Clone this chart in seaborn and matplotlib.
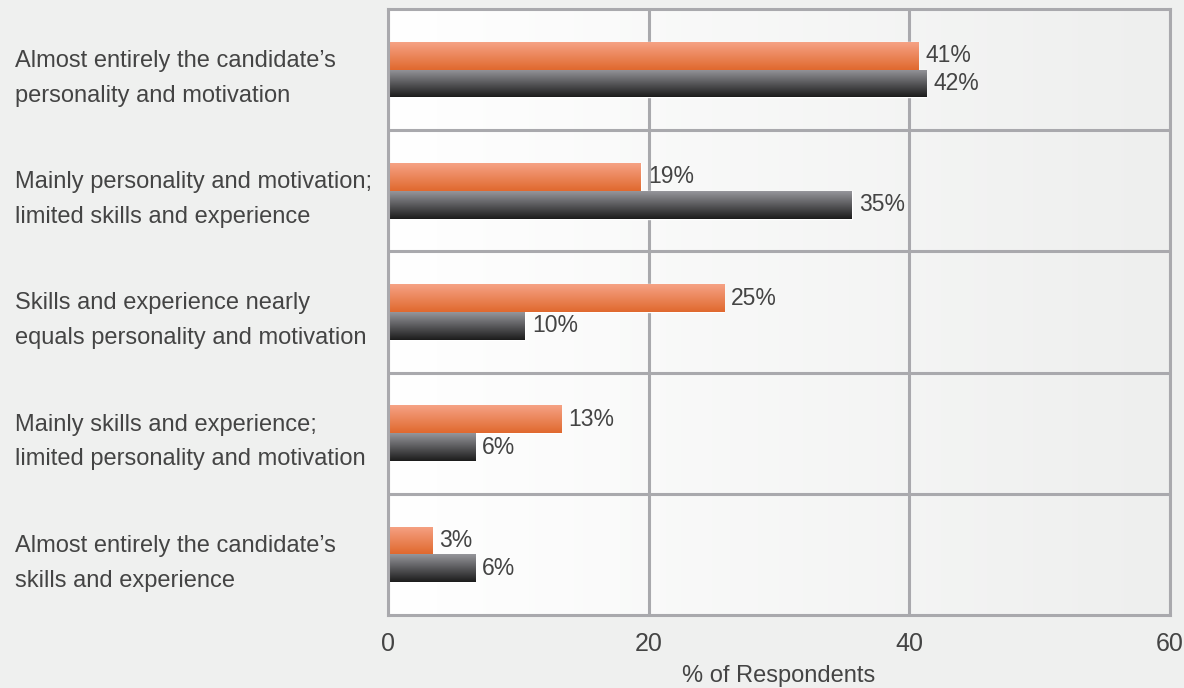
import numpy as np
import pandas as pd
import seaborn as sns
import matplotlib
matplotlib.use("Agg")
import matplotlib.pyplot as plt
from matplotlib.colors import LinearSegmentedColormap

# ---- data ----
categories = [
    "Almost entirely the candidate\u2019s\npersonality and motivation",
    "Mainly personality and motivation;\nlimited skills and experience",
    "Skills and experience nearly\nequals personality and motivation",
    "Mainly skills and experience;\nlimited personality and motivation",
    "Almost entirely the candidate\u2019s\nskills and experience",
]
series_names = ["Series 1", "Series 2"]
orange_values = [40.7, 19.4, 25.8, 13.3, 3.4]
gray_values = [41.3, 35.6, 10.5, 6.7, 6.7]
orange_labels = ["41%", "19%", "25%", "13%", "3%"]
gray_labels = ["42%", "35%", "10%", "6%", "6%"]
x_ticks = [0, 20, 40, 60]
x_label = "% of Respondents"

# ---- style ----
sns.set_theme(style="white")
FONT = ["Liberation Sans", "DejaVu Sans"]
plt.rcParams["font.family"] = FONT
TEXT = "#444444"
GRID = "#a9a9ad"
FIG_BG = "#eff0ef"

df = pd.DataFrame({
    "category": categories * 2,
    "series": [series_names[0]] * len(categories) + [series_names[1]] * len(categories),
    "value": orange_values + gray_values,
})

fig = plt.figure(figsize=(11.84, 6.88), dpi=100, facecolor=FIG_BG)
ax = fig.add_axes([388 / 1184, 1 - 615 / 688, (1170 - 388) / 1184, (615 - 9) / 688])

sns.barplot(data=df, y="category", x="value", hue="series", orient="h",
            width=0.46, palette=["#eb8255", "#5a5a5e"], saturation=1,
            legend=False, ax=ax, zorder=1)

# plot-area background gradient
bg_cmap = LinearSegmentedColormap.from_list("bg", ["#ffffff", "#eeefee"])
ax.imshow(np.linspace(0, 1, 256).reshape(1, -1), cmap=bg_cmap, aspect="auto",
          extent=[0, 1, 0, 1], transform=ax.transAxes, zorder=0.1)

# bar gradients
grad_maps = [
    LinearSegmentedColormap.from_list("og", ["#f6a285", "#e0692e"]),
    LinearSegmentedColormap.from_list("gg", ["#96969b", "#1c1c1c"]),
]
grad = np.linspace(0, 1, 128).reshape(-1, 1)
for cont, cmap in zip(ax.containers, grad_maps):
    for p in cont.patches:
        x0, y0, w, h = p.get_x(), p.get_y(), p.get_width(), p.get_height()
        im = ax.imshow(grad, cmap=cmap, aspect="auto", origin="upper",
                       extent=[x0, x0 + w, y0 + h, y0], zorder=1.1)
        im.set_clip_path(p)

ax.set_xlim(0, 60)
ax.set_ylim(len(categories) - 0.5, -0.5)

# value labels
for cont, labs in zip(ax.containers, [orange_labels, gray_labels]):
    ax.bar_label(cont, labels=labs, padding=5, fontsize=16.5, color=TEXT,
                 family=FONT)

# grid & separators
ax.set_xticks(x_ticks)
ax.xaxis.grid(True, color=GRID, linewidth=2.2, zorder=0.5)
for yy in np.arange(0.5, len(categories) - 0.5, 1.0):
    ax.axhline(yy, color=GRID, linewidth=2.2, zorder=0.5)
for s in ax.spines.values():
    s.set_visible(True)
    s.set_color(GRID)
    s.set_linewidth(2.2)

ax.tick_params(axis="x", length=0, pad=12, labelsize=18, labelcolor=TEXT)
ax.tick_params(axis="y", length=0, pad=(388 - 15) * 0.72, labelsize=17, labelcolor=TEXT)
for t in ax.get_yticklabels():
    t.set_horizontalalignment("left")
    t.set_linespacing(1.75)

ax.set_ylabel("")
ax.set_xlabel(x_label, fontsize=17, color=TEXT, labelpad=7)

fig.savefig("out.png", dpi=100, facecolor=FIG_BG)
